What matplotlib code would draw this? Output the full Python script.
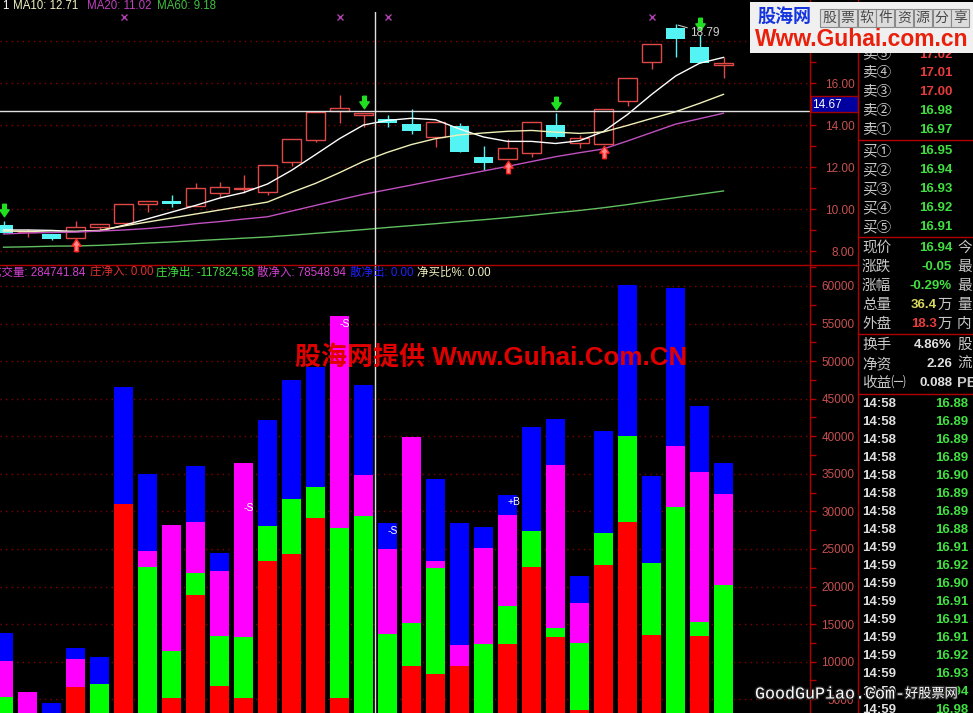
import matplotlib
matplotlib.use('Agg')
import numpy as np
import matplotlib.pyplot as plt
import matplotlib.patheffects as pe
from matplotlib.patches import Rectangle
from matplotlib.path import Path
from matplotlib.transforms import offset_copy, blended_transform_factory

plt.rcParams['font.family'] = ['Liberation Sans', 'Noto Sans CJK SC', 'DejaVu Sans']

# ---------------- data ----------------
# daily candles (31 days)
opens  = [9.24, 8.90, 8.80, 8.63, 9.16, 9.32, 10.22, 10.38, 10.16, 10.78, 10.94,
          10.82, 12.25, 13.29, 14.68, 14.46, 14.27, 14.05, 13.41, 13.95, 12.49,
          12.37, 12.65, 14.00, 13.13, 13.10, 15.16, 16.98, 18.60, 17.70, 16.86]
highs  = [9.44, 9.05, 8.80, 9.43, 9.27, 10.24, 10.40, 10.67, 11.25, 11.30, 11.62,
          12.10, 13.32, 14.63, 15.43, 14.59, 14.48, 14.75, 14.16, 14.08, 13.00,
          13.32, 14.16, 14.56, 13.52, 14.75, 16.22, 17.84, 18.79, 18.29, 17.25]
lows   = [8.84, 8.68, 8.52, 8.63, 9.00, 9.32, 9.87, 10.11, 10.16, 10.59, 10.78,
          10.67, 12.05, 13.18, 14.11, 13.92, 13.89, 13.57, 12.97, 12.73, 11.86,
          12.37, 12.46, 13.40, 12.89, 13.10, 14.90, 16.65, 17.22, 16.97, 16.22]
closes = [8.87, 8.92, 8.59, 9.13, 9.27, 10.24, 10.38, 10.24, 10.99, 11.03, 10.96,
          12.10, 13.32, 14.63, 14.79, 14.59, 14.11, 13.73, 14.16, 12.73, 12.20,
          12.89, 14.16, 13.44, 13.37, 14.75, 16.22, 17.84, 18.08, 16.97, 16.94]

ma5  = [9.00, 9.00, 8.98, 8.93, 8.96, 9.22, 9.53, 9.85, 10.17, 10.52, 10.78,
        11.19, 11.84, 12.59, 13.35, 14.00, 14.22, 14.32, 14.25, 13.81, 13.43,
        13.22, 13.22, 13.12, 13.25, 13.69, 14.50, 15.45, 16.33, 16.94, 17.22]
ma10 = [8.95, 8.93, 8.90, 8.93, 8.98, 9.19, 9.38, 9.57, 9.76, 9.95, 10.14,
        10.33, 10.79, 11.22, 11.73, 12.27, 12.70, 13.07, 13.35, 13.53, 13.62,
        13.70, 13.74, 13.66, 13.60, 13.67, 13.98, 14.31, 14.63, 15.03, 15.46]
ma20 = [8.81, 8.86, 8.88, 8.90, 8.95, 9.00, 9.07, 9.17, 9.30, 9.40, 9.52,
        9.63, 9.90, 10.17, 10.44, 10.70, 10.92, 11.14, 11.37, 11.59, 11.81,
        12.03, 12.26, 12.49, 12.68, 12.86, 13.24, 13.64, 14.04, 14.30, 14.56]
ma60 = [8.18, 8.20, 8.23, 8.24, 8.27, 8.32, 8.38, 8.43, 8.49, 8.55, 8.61,
        8.67, 8.75, 8.84, 8.93, 9.02, 9.12, 9.21, 9.30, 9.40, 9.49,
        9.59, 9.70, 9.82, 9.93, 10.06, 10.21, 10.38, 10.54, 10.70, 10.86]

sell_signal = [0, 15, 23, 29]      # green down arrows
buy_signal = [3, 21, 25]           # red up arrows
top_marks = [5, 14, 16, 27]        # magenta crosses
cursor_idx = 15.46
cursor_price = 14.67

# stacked volume parts: red, green, magenta, blue
vol_red   = [0, 0, 0, 6580, 0, 30980, 0, 5120, 18870, 6760, 5120, 23400, 24330, 29080,
             5120, 0, 0, 9470, 8360, 9420, 0, 12350, 22640, 13320, 3570, 22860, 28630,
             13550, 0, 13410, 0]
vol_green = [5340, 0, 0, 0, 7030, 0, 22640, 6340, 2890, 6650, 8200, 4700, 7320, 4210,
             22710, 29380, 13680, 5720, 14150, 0, 12350, 5060, 4750, 1200, 8950, 4220,
             11400, 9620, 30540, 1910, 20200]
vol_mag   = [4750, 5920, 0, 3770, 0, 0, 2130, 16730, 6870, 8700, 23160, 0, 0, 0,
             28170, 5460, 11310, 24750, 930, 2800, 12820, 12110, 0, 21650, 5330, 0, 0,
             0, 8160, 19960, 12070]
vol_blue  = [3680, 0, 4450, 1420, 3550, 15620, 10210, 0, 7410, 2390, 0, 14060, 15840,
             15970, 0, 11980, 3500, 0, 10870, 16190, 2790, 2660, 13880, 6080, 3550,
             13660, 20100, 11540, 20990, 8750, 4210]
flag_idx = [10, 14, 16, 21]
flag_txt = ['-S', '-S', '-S', '+B']
flag_val = [30490, 54940, 27430, 31250]

ma_header = [('1', '#ffffff'), ('MA10: 12.71', '#f0f0c0'),
             ('MA20: 11.02', '#c040c0'), ('MA60: 9.18', '#40c040')]
vol_header = [('成交量: 284741.84', '#d040d0'), ('庄净入: 0.00', '#e03030'),
              ('庄净出: -117824.58', '#40e040'), ('散净入: 78548.94', '#d040d0'),
              ('散净出: 0.00', '#2020ff'), ('净买比%: 0.00', '#f0f0c0')]

# order book panel
sell_lbl = ['卖⑤', '卖④', '卖③', '卖②', '卖①']
sell_px  = [17.02, 17.01, 17.00, 16.98, 16.97]
buy_lbl  = ['买①', '买②', '买③', '买④', '买⑤']
buy_px   = [16.95, 16.94, 16.93, 16.92, 16.91]
last_price = 16.94
change = -0.05
stat_lbl = ['现价', '涨跌', '涨幅', '总量', '外盘', '换手', '净资', '收益㈠']
stat_val = ['16.94', '-0.05', '-0.29%', '36.4', '18.3', '4.86%', '2.26', '0.088']
stat_side = ['今', '最', '最', '量', '内', '股', '流', 'PE']
tick_time = ['14:58'] * 8 + ['14:59'] * 10
tick_px = [16.88, 16.89, 16.89, 16.89, 16.90, 16.89, 16.89, 16.88, 16.91,
           16.92, 16.90, 16.91, 16.91, 16.91, 16.92, 16.93, 16.94, 16.98]

# ---------------- figure ----------------
W, H = 973, 713
fig = plt.figure(figsize=(W / 100, H / 100), dpi=100, facecolor='black')

def box(x0, y0, x1, y1):
    return [x0 / W, 1 - y1 / H, (x1 - x0) / W, (y1 - y0) / H]

ax = fig.add_axes(box(0, 12, 810, 265))
axv = fig.add_axes(box(0, 265, 810, 713))
ov = fig.add_axes([0, 0, 1, 1], zorder=10)
ov.set_xlim(0, W)
ov.set_ylim(H, 0)
ov.axis('off')

RED_C = '#e04848'
CYAN = '#54f4f4'
LINE_RED = '#b00000'
GREEN_T = '#40e040'
RED_T = '#e83c3c'
idx = np.arange(len(opens))

for a, maj, mnr, fmt in [(ax, np.arange(8, 19, 2), np.arange(8, 20, 1), '{:.2f}'),
                         (axv, np.arange(5000, 60001, 5000), np.arange(2500, 62501, 2500), '{:d}')]:
    a.set_facecolor('black')
    a.set_xlim(-3.5 / 24, 806.5 / 24)
    a.set_xticks([])
    a.yaxis.tick_right()
    a.set_yticks(maj)
    a.set_yticks(mnr, minor=True)
    a.set_yticklabels([fmt.format(v if fmt == '{:.2f}' else int(v)) for v in maj])
    a.tick_params(axis='y', which='both', colors=LINE_RED, length=4, width=1, direction='out')
    a.tick_params(axis='y', which='major', labelcolor='#c85050', labelsize=8.5, pad=28)
    for s in a.spines.values():
        s.set_visible(False)
    a.grid(axis='y', which='major', color='#800000', ls=(0, (1, 3)), lw=1)

ax.set_ylim(16 - 182 / 21, 16 + 71 / 21)
axv.set_ylim(3167, 62788)
for a in (ax, axv):
    plt.setp(a.get_yticklabels(), ha='right')

# candles
o, h, l, c = map(np.array, (opens, highs, lows, closes))
up = c >= o
body_lo = np.minimum(o, c)
body_h = np.maximum(np.abs(c - o), 0.04)
ax.vlines(idx[up], l[up], h[up], color=RED_C, lw=1, zorder=2)
ax.vlines(idx[~up], l[~up], h[~up], color=CYAN, lw=1, zorder=2)
ax.bar(idx[up], body_h[up], 0.76, bottom=body_lo[up], facecolor='black',
       edgecolor=RED_C, lw=1, zorder=3)
ax.bar(idx[~up], body_h[~up], 0.78, bottom=body_lo[~up], color=CYAN, lw=0, zorder=3)

ax.plot(idx, ma5, color='#ffffff', lw=1, zorder=4)
ax.plot(idx, ma10, color='#f0f0b8', lw=1, zorder=4)
ax.plot(idx, ma20, color='#c050c0', lw=1, zorder=4)
ax.plot(idx, ma60, color='#60c060', lw=1, zorder=4)

ax.axhline(cursor_price, color='#e0e0e0', lw=1, zorder=5)
ax.axvline(cursor_idx, color='#e0e0e0', lw=1, zorder=5)
axv.axvline(cursor_idx, color='#e0e0e0', lw=1, zorder=5)

# signal arrows
down_arrow = Path([(-0.3, 1), (0.3, 1), (0.3, 0.1), (0.75, 0.1), (0, -1),
                   (-0.75, 0.1), (-0.3, 0.1), (-0.3, 1)])
up_arrow = Path([(x, -y) for x, y in down_arrow.vertices])
ax.plot(sell_signal, h[sell_signal], ls='none', marker=down_arrow, ms=9,
        mfc='#20e020', mec='#20e020', zorder=6,
        transform=offset_copy(ax.transData, fig=fig, y=7.5, units='points'))
ax.plot(buy_signal, l[buy_signal], ls='none', marker=up_arrow, ms=9,
        mfc='#ff8a8a', mec='#ff2020', mew=1, zorder=6,
        transform=offset_copy(ax.transData, fig=fig, y=-5.5, units='points'))
ax.plot(top_marks, [0.982] * len(top_marks), ls='none', marker='x', ms=4, mew=1,
        color='#b040b0', transform=blended_transform_factory(ax.transData, ax.transAxes))

top_i = int(np.argmax(h))
ax.annotate(f'{h[top_i]:.2f}', xy=(top_i, h[top_i]), xytext=(10.5, -6),
            textcoords='offset points', color='#d0d0d0', fontsize=8.5, va='center',
            arrowprops=dict(arrowstyle='-', color='#c0c0c0', lw=0.8, shrinkA=0, shrinkB=2),
            zorder=6)

# stacked volume bars
base = np.zeros(len(idx))
for vals, col in [(vol_red, '#ff0000'), (vol_green, '#00ff00'),
                  (vol_mag, '#ff00ff'), (vol_blue, '#0000ff')]:
    axv.bar(idx, vals, 0.79, bottom=base, color=col, lw=0, zorder=3)
    base = base + np.array(vals)
for i, t, v in zip(flag_idx, flag_txt, flag_val):
    axv.text(i, v, t, color='white', fontsize=7.5, ha='left', va='center', zorder=6)

# frame lines
ov.plot([810, 810], [0, H], color=LINE_RED, lw=1)
ov.plot([857.5, 857.5], [0, H], color=LINE_RED, lw=1)
ov.plot([0, 858], [264.5, 264.5], color=LINE_RED, lw=1)
for yy in [140, 237, 334, 394]:
    ov.plot([858, W], [yy, yy], color=LINE_RED, lw=1)

# headers
xs = [2, 13, 87, 157]
for (t, col), x in zip(ma_header, xs):
    ov.text(x, 6, t, color=col, fontsize=8.3, va='center')
xs = [-10, 90, 156, 257, 350, 417]
for (t, col), x in zip(vol_header, xs):
    ov.text(x, 273, t, color=col, fontsize=8.3, va='center')

# cursor price box
ov.add_patch(Rectangle((810.5, 96), 47, 16, facecolor='#0000a0', edgecolor='#a00000', lw=1))
ov.text(812, 104.5, f'{cursor_price:.2f}', color='white', fontsize=8.5, va='center')

# order book
prev_close = last_price - change
LBL = '#c8c8c8'
VAL = dict(fontsize=9.5, fontweight='bold', ha='right', va='center')

def pcol(p):
    return RED_T if p > prev_close else GREEN_T

for k, (t, p) in enumerate(zip(sell_lbl, sell_px)):
    y = 55 + 19 * k if k == 0 else 54 + 19 * k
    ov.text(862, y, t, color=LBL, fontsize=10.5, va='center')
    ov.text(952, y, f'{p:.2f}', color=pcol(p), **VAL)
for k, (t, p) in enumerate(zip(buy_lbl, buy_px)):
    y = 151 + 19 * k
    ov.text(862, y, t, color=LBL, fontsize=10.5, va='center')
    ov.text(952, y, f'{p:.2f}', color=pcol(p), **VAL)

stat_y = [248, 267, 286, 305, 324, 345, 364, 383]
stat_col = [GREEN_T, GREEN_T, GREEN_T, '#d8d860', RED_T, '#e0e0e0', '#e0e0e0', '#e0e0e0']
for k in range(len(stat_lbl)):
    y = stat_y[k]
    ov.text(862, y, stat_lbl[k], color=LBL, fontsize=10.5, va='center')
    if stat_lbl[k] in ('总量', '外盘'):
        ov.text(952, y, '万', color=LBL, fontsize=10.5, ha='right', va='center')
        ov.text(937, y, stat_val[k], color=stat_col[k], **VAL)
    else:
        ov.text(952, y, stat_val[k], color=stat_col[k], **VAL)
    ov.text(957, y, stat_side[k], color=LBL, fontsize=10.5, va='center',
            fontweight='bold' if stat_side[k] == 'PE' else 'normal')

for k, (t, p) in enumerate(zip(tick_time, tick_px)):
    y = 404 + 18 * k
    ov.text(862, y, t, color='#e0e0e0', fontsize=9.5, fontweight='bold', va='center')
    ov.text(968, y, f'{p:.2f}', color=pcol(p), **VAL)

# watermarks
ov.add_patch(Rectangle((750, 2), 223, 51, facecolor='#f0f0f0', edgecolor='none', zorder=20))
ov.text(757, 17, '股海网', color='#1434e0', fontsize=13, fontweight='bold',
        va='center', zorder=21)
for k, ch in enumerate('股票软件资源分享'):
    x0 = 820 + 18.75 * k
    ov.add_patch(Rectangle((x0, 9), 18, 18, facecolor='#dcdcdc', edgecolor='#8a8a8a',
                           lw=0.8, zorder=21))
    ov.text(x0 + 9, 18, ch, color='#484848', fontsize=10, ha='center', va='center', zorder=22)
ov.text(755, 39, 'Www.Guhai.com.cn', color='#e8200c', fontsize=16.5, fontweight='bold',
        va='center', zorder=21)

ov.text(295, 357, '股海网提供 Www.Guhai.Com.CN', color='#e00000', fontsize=18.7,
        fontweight='bold', va='center', zorder=20)

stroke = [pe.withStroke(linewidth=2, foreground='#202020')]
ov.text(755, 694, 'GoodGuPiao.Com-', color='white', fontsize=12, family='Liberation Mono',
        va='center', zorder=20, path_effects=stroke)
ov.text(905, 694, '好股票网', color='white', fontsize=9.5, family='Noto Sans CJK SC',
        va='center', zorder=20, path_effects=stroke)

fig.savefig('out.png', dpi=100, facecolor='black')
